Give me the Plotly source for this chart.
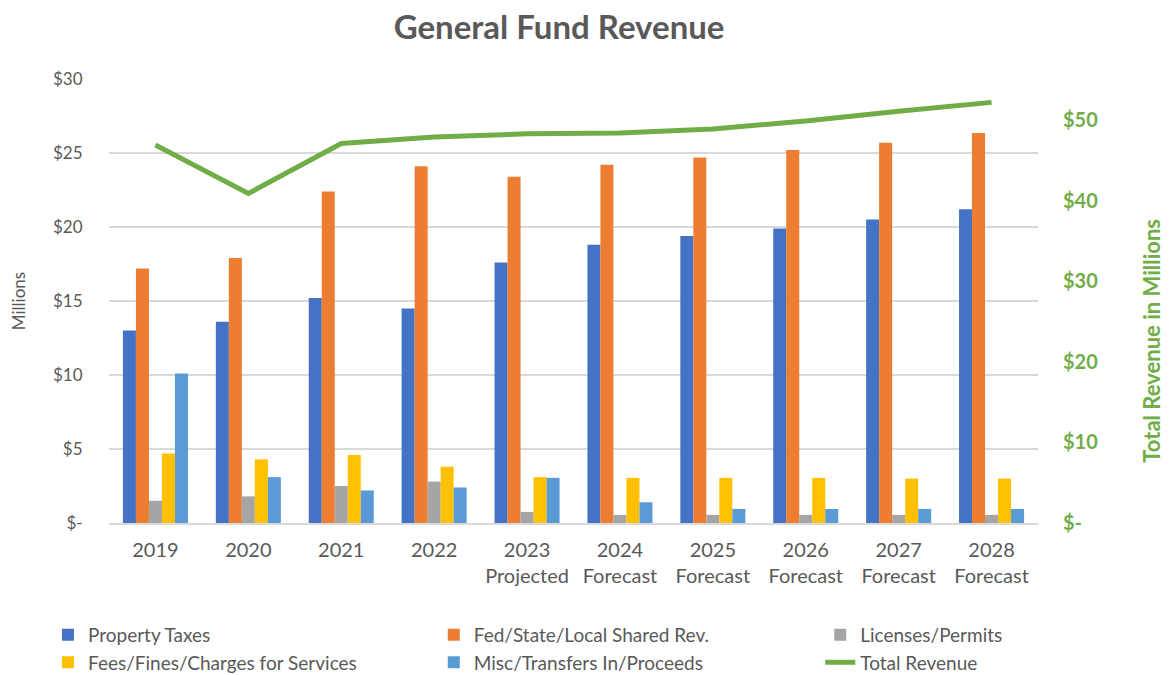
import plotly.graph_objects as go

categories = ["2019", "2020", "2021", "2022", "2023<br>Projected", "2024<br>Forecast",
              "2025<br>Forecast", "2026<br>Forecast", "2027<br>Forecast", "2028<br>Forecast"]

property_taxes = [13.0, 13.6, 15.2, 14.5, 17.6, 18.8, 19.4, 19.9, 20.5, 21.2]
shared_rev = [17.2, 17.9, 22.4, 24.1, 23.4, 24.2, 24.7, 25.2, 25.7, 26.35]
licenses = [1.5, 1.8, 2.5, 2.8, 0.75, 0.55, 0.55, 0.55, 0.55, 0.55]
fees = [4.7, 4.3, 4.6, 3.8, 3.1, 3.05, 3.05, 3.05, 3.0, 3.0]
misc = [10.1, 3.1, 2.2, 2.4, 3.05, 1.4, 0.95, 0.95, 0.95, 0.95]
total_revenue = [46.9, 40.9, 47.1, 47.9, 48.3, 48.4, 48.9, 49.9, 51.1, 52.2]

left_ticks = [0, 5, 10, 15, 20, 25, 30]
left_labels = ["$-", "$5", "$10", "$15", "$20", "$25", "$30"]
right_ticks = [0, 10, 20, 30, 40, 50]
right_labels = ["$-", "$10", "$20", "$30", "$40", "$50"]

FONT = "Lato"
GRAY = "#595959"
GREEN = "#70AD47"

fig = go.Figure()
bar_specs = [
    ("Property Taxes", property_taxes, "#4472C4", "legend"),
    ("Fed/State/Local Shared Rev.", shared_rev, "#ED7D31", "legend2"),
    ("Licenses/Permits", licenses, "#A5A5A5", "legend3"),
    ("Fees/Fines/Charges for Services", fees, "#FFC000", "legend"),
    ("Misc/Transfers In/Proceeds", misc, "#5B9BD5", "legend2"),
]
for name, vals, color, lg in bar_specs:
    fig.add_trace(go.Bar(x=categories, y=vals, name=name, marker_color=color,
                         marker_line_width=0, legend=lg, yaxis="y"))

fig.add_trace(go.Scatter(x=categories, y=total_revenue, name="Total Revenue", mode="lines",
                         line=dict(color=GREEN, width=5), yaxis="y2", legend="legend3"))

legend_common = dict(xref="paper", yref="paper", yanchor="top", y=-0.209,
                     xanchor="left", orientation="v", bgcolor="rgba(0,0,0,0)",
                     font=dict(family=FONT, size=19, color=GRAY), traceorder="normal",
                     itemwidth=30, tracegroupgap=0)

fig.update_layout(
    width=1170, height=675,
    paper_bgcolor="white", plot_bgcolor="white",
    margin=dict(l=101, r=140, t=71, b=160, autoexpand=False),
    title=dict(text="<b>General Fund Revenue</b>", x=0.471, xanchor="center",
               y=0.971, yanchor="middle", xref="container", yref="container",
               font=dict(family=FONT, size=33, color=GRAY)),
    barmode="group", bargap=0.30, bargroupgap=0,
    showlegend=True,
    legend=dict(x=-0.0657, **legend_common),
    legend2=dict(x=0.3496, **legend_common),
    legend3=dict(x=0.7656, **legend_common),
    xaxis=dict(tickfont=dict(family=FONT, size=20, color=GRAY), showline=True,
               linecolor="#d9d9d9", linewidth=2, ticks="outside", ticklen=8,
               tickcolor="rgba(0,0,0,0)", showgrid=False, tickangle=0),
    yaxis=dict(range=[0, 30], tickvals=left_ticks, ticktext=left_labels,
               tickfont=dict(family=FONT, size=17, color=GRAY),
               showgrid=True, gridcolor="#d9d9d9", gridwidth=1.5, zeroline=False,
               title=dict(text="Millions", font=dict(family=FONT, size=17, color=GRAY), standoff=24),
               ticks="outside", ticklen=22, tickcolor="rgba(0,0,0,0)"),
    yaxis2=dict(range=[0, 55.1], tickvals=right_ticks, ticktext=right_labels,
                overlaying="y", side="right", showgrid=False, zeroline=False,
                tickfont=dict(family=FONT, size=20, color=GREEN, weight="bold"),
                ticks="outside", ticklen=20, tickcolor="rgba(0,0,0,0)"),
    annotations=[dict(text="<b>Total Revenue in Millions</b>", textangle=-90,
                      xref="paper", yref="paper", x=1.1225, y=0.41,
                      xanchor="center", yanchor="middle", showarrow=False,
                      font=dict(family=FONT, size=22, color=GREEN))],
)

fig.write_html("out.html")
